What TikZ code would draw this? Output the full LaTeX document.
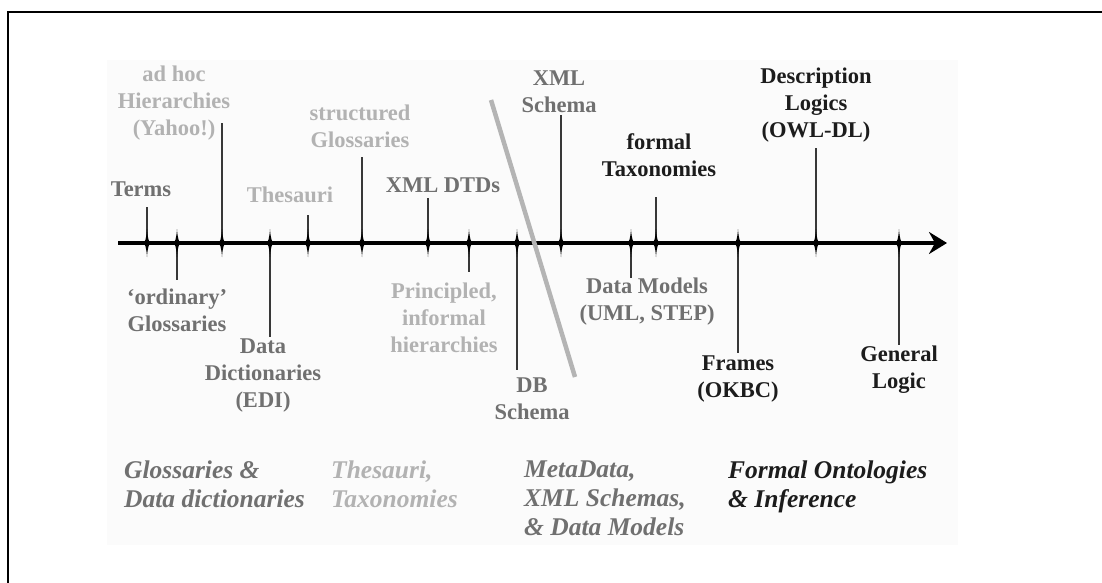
\documentclass[tikz,border=0pt]{standalone}
\usepackage{fontspec}
\setmainfont{Liberation Serif}
\usetikzlibrary{arrows.meta}

\definecolor{tonedark}{HTML}{1C1C1C}
\definecolor{tonemid}{HTML}{707070}
\definecolor{tonelight}{HTML}{B2B2B2}
\definecolor{panelfill}{HTML}{FBFBFB}
\definecolor{stemcol}{HTML}{383838}
\definecolor{slashcol}{HTML}{B4B4B4}

\tikzset{
  lbl/.style={font=\fontsize{22.5}{27}\selectfont\bfseries, align=center, inner sep=0pt},
  era/.style={font=\fontsize{25.5}{29}\selectfont\bfseries\itshape, align=left,
              anchor=north west, inner sep=0pt},
  stem/.style={draw=stemcol, line width=1.2pt},
  tickmark/.pic={
    \fill[black] (0,-14) .. controls (0.7,-4) and (1.8,-1.2) .. (3.8,0)
      .. controls (1.8,1.2) and (0.7,4) .. (0,14)
      .. controls (-0.7,4) and (-1.8,1.2) .. (-3.8,0)
      .. controls (-1.8,-1.2) and (-0.7,-4) .. (0,-14) -- cycle;
  }
}

\begin{document}
\begin{tikzpicture}[x=1pt,y=-1pt]
  \useasboundingbox (0,0) rectangle (1102,583);

  % frame (top and left edges) and the pale panel
  \draw[line width=2pt, black] (1102,12) -- (8,12) -- (8,583);
  \fill[panelfill] (107,60) rectangle (958,545);

  % time axis
  \coordinate (a0) at (118,243);
  \coordinate (a1) at (947,243);
  \draw[line width=4pt, -{Stealth[length=18pt,width=22pt,inset=6pt]}] (a0) -- (a1);

  % tick positions on the axis
  \foreach \n/\x in {1/147,2/177,3/222,4/270,5/308,6/362,7/428,8/469,
                     9/517,10/561,11/631,12/656,13/738,14/816,15/899}
    \coordinate (t\n) at (\x,243);

  % free ends of the stems
  \coordinate (e1) at (147,207);
  \coordinate (e2) at (177,280);
  \coordinate (e3) at (222,123);
  \coordinate (e4) at (270,337);
  \coordinate (e5) at (308,215);
  \coordinate (e6) at (362,157);
  \coordinate (e7) at (428,198);
  \coordinate (e8) at (469,272);
  \coordinate (e9) at (517,370);
  \coordinate (e10) at (561,115);
  \coordinate (e11) at (631,278);
  \coordinate (e12) at (656,197);
  \coordinate (e13) at (738,353);
  \coordinate (e14) at (816,148);
  \coordinate (e15) at (899,345);

  \foreach \n in {1,...,15} {
    \draw[stem] (t\n) -- (e\n);
    \pic at (t\n) {tickmark};
  }

  % the dividing slash
  \coordinate (s0) at (491,100);
  \coordinate (s1) at (575,377);
  \draw[slashcol, line width=4.5pt] (s0) -- (s1);

  % labels above the axis
  \node[lbl, text=tonemid]   (terms)      at (141,189) {Terms};
  \node[lbl, text=tonelight] (adhoc)      at (174,103) {ad hoc\\Hierarchies\\(Yahoo!)};
  \node[lbl, text=tonelight] (thesauri)   at (290,195) {Thesauri};
  \node[lbl, text=tonelight] (structured) at (360,126) {structured\\Glossaries};
  \node[lbl, text=tonemid]   (xmldtd)     at (443,185) {XML DTDs};
  \node[lbl, text=tonemid]   (xmlschema)  at (559,92)  {XML\\Schema};
  \node[lbl, text=tonedark]  (formaltax)  at (659,155) {formal\\Taxonomies};
  \node[lbl, text=tonedark]  (desclogics) at (816,105) {Description\\Logics\\(OWL-DL)};

  % labels below the axis
  \node[lbl, text=tonemid]   (ordinary)   at (177,310) {‘ordinary’\\Glossaries};
  \node[lbl, text=tonemid]   (datadict)   at (263,376) {Data\\Dictionaries\\(EDI)};
  \node[lbl, text=tonelight] (principled) at (444,318) {Principled,\\informal\\hierarchies};
  \node[lbl, text=tonemid]   (dbschema)   at (532,399) {DB\\Schema};
  \node[lbl, text=tonemid]   (datamodels) at (647,302) {Data Models\\(UML, STEP)};
  \node[lbl, text=tonedark]  (frames)     at (738,379) {Frames\\(OKBC)};
  \node[lbl, text=tonedark]  (genlogic)   at (899,370) {General\\Logic};

  % era captions
  \node[era, text=tonemid]   (eraone)   at (124,461) {Glossaries \&\\Data dictionaries};
  \node[era, text=tonelight] (eratwo)   at (331,461) {Thesauri,\\Taxonomies};
  \node[era, text=tonemid]   (erathree) at (524,461) {MetaData,\\XML Schemas,\\\& Data Models};
  \node[era, text=tonedark]  (erafour)  at (728,461) {Formal Ontologies\\\& Inference};
\end{tikzpicture}
\end{document}
